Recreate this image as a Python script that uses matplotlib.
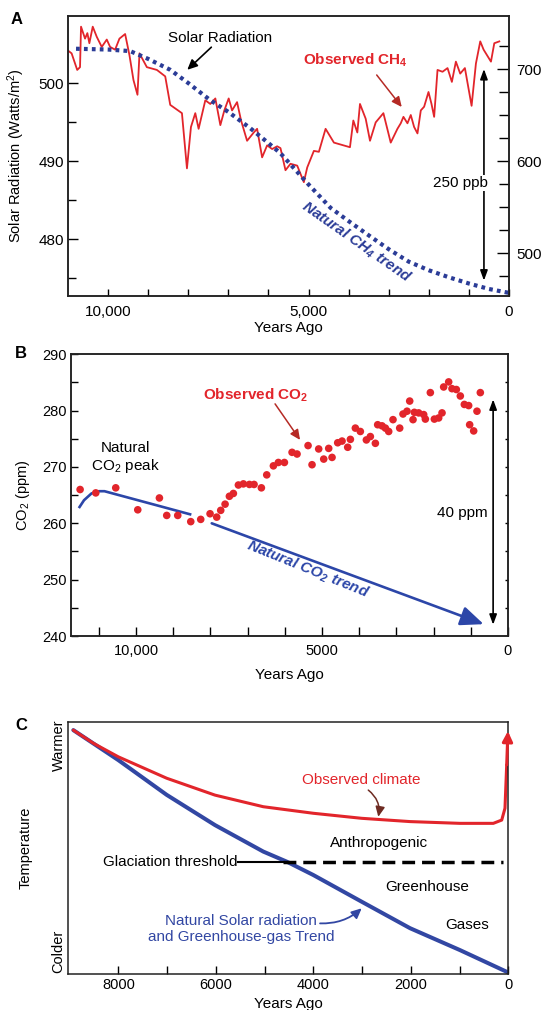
import matplotlib
matplotlib.use("Agg")
import matplotlib.pyplot as plt

plt.rcParams['font.family'] = ['Liberation Sans', 'DejaVu Sans']
plt.rcParams['mathtext.default'] = 'regular'

RED = '#e2252b'
BLUE = '#2b3c97'
BLUE_B = '#2c46a8'
BLUE_C = '#3247a3'

# --- A: summer insolation and methane ---
solar_years = [10800, 10000, 9450, 9000, 8450, 8000, 7450, 7000, 6450, 6000, 5700,
               5000, 4450, 4000, 3450, 3000, 2500, 2000, 1500, 1000, 500, 0]
solar_wm2 = [504.4, 504.3, 504.1, 503.1, 501.7, 500.0, 497.8, 496.3, 494.2, 492.3, 491.0,
             487.0, 484.0, 482.3, 480.3, 478.7, 477.1, 476.0, 475.1, 474.3, 473.6, 473.1]

ch4_years = [11000, 10910, 10770, 10700, 10675, 10575, 10517, 10467, 10383, 10283,
             10158, 10033, 9950, 9825, 9717, 9575, 9467, 9367, 9267, 9217,
             9033, 8783, 8575, 8450, 8158, 8033, 7933, 7825, 7742, 7575,
             7450, 7325, 7200, 7100, 6992, 6908, 6783, 6683, 6533, 6367,
             6283, 6158, 6033, 5908, 5783, 5700, 5575, 5450, 5283, 5117,
             5033, 4867, 4742, 4575, 4367, 3967, 3883, 3783, 3717, 3575,
             3467, 3325, 3133, 2950, 2783, 2700, 2633, 2533, 2450, 2367,
             2283, 2200, 2117, 2008, 1933, 1867, 1783, 1658, 1533, 1425,
             1325, 1217, 1100, 933, 825, 717, 633, 450, 367, 242]
ch4_ppb = [720, 717, 699, 702, 746, 733, 739, 728, 746, 735,
           724, 732, 724, 721, 733, 738, 715, 688, 672, 717,
           702, 699, 692, 661, 652, 592, 637, 652, 635, 666,
           662, 668, 639, 655, 668, 655, 664, 644, 622, 631,
           635, 604, 617, 613, 616, 614, 590, 597, 595, 577,
           593, 611, 610, 635, 620, 615, 644, 631, 662, 646,
           622, 642, 652, 620, 635, 641, 648, 641, 650, 637,
           630, 655, 659, 675, 662, 648, 699, 697, 701, 686,
           708, 695, 701, 660, 706, 730, 721, 708, 728, 730]
ch4_span = [700, 470]

# --- B: carbon dioxide ---
co2_years = [11505, 11084, 10547, 9955, 9373, 9176, 8880, 8530, 8262, 8011,
             7832, 7724, 7607, 7491, 7384, 7249, 7115, 6953, 6828, 6631,
             6487, 6308, 6174, 6012, 5806, 5672, 5376, 5269, 5090, 4955,
             4821, 4731, 4579, 4462, 4310, 4238, 4104, 3970, 3808, 3701,
             3566, 3504, 3387, 3297, 3208, 3092, 2912, 2823, 2715, 2643,
             2554, 2518, 2402, 2267, 2222, 2088, 1980, 1864, 1774, 1730,
             1595, 1506, 1389, 1282, 1174, 1058, 1031, 923, 834, 744]
co2_ppm = [266.0, 265.4, 266.3, 262.4, 264.5, 261.4, 261.4, 260.3, 260.7, 261.7,
           261.1, 262.3, 263.4, 264.8, 265.3, 266.8, 267.0, 266.9, 266.9, 266.3,
           268.6, 270.2, 270.8, 270.8, 272.6, 272.3, 273.8, 270.4, 273.2, 271.4,
           273.3, 271.7, 274.3, 274.6, 273.5, 274.9, 276.9, 276.3, 274.8, 275.4,
           274.2, 277.5, 277.3, 276.9, 276.3, 278.4, 276.9, 279.4, 279.9, 281.7,
           278.4, 279.7, 279.6, 279.3, 278.5, 283.2, 278.5, 278.7, 279.6, 284.2,
           285.1, 283.9, 283.75, 282.6, 281.1, 280.9, 277.5, 276.4, 279.9, 283.2]
peak_years = [11520, 11400, 11200, 11000, 10850, 8548]
peak_ppm = [262.9, 264.1, 265.3, 265.7, 265.7, 261.6]
trend_years = [7966, 654]
trend_ppm = [260.0, 242.1]
co2_span = [282, 242]

# --- C: schematic temperature ---
nat_years = [8923, 8000, 7007, 6016, 5026, 4545, 4000, 3007, 2016, 991, 0]
nat_temp = [0.969, 0.850, 0.712, 0.592, 0.487, 0.447, 0.394, 0.288, 0.183, 0.096, 0.007]
obs_years = [8923, 8513, 8000, 7007, 6016, 5026, 4000, 3007, 2016, 991, 308, 135, 68, 33, 8]
obs_temp = [0.969, 0.917, 0.863, 0.778, 0.711, 0.665, 0.639, 0.619, 0.606, 0.599,
            0.599, 0.612, 0.659, 0.831, 0.965]
threshold = 0.447

W, H = 542, 1010
fig = plt.figure(figsize=(W / 100, H / 100), dpi=100)


def box(left, top, right, bottom):
    return [left / W, 1 - bottom / H, (right - left) / W, (bottom - top) / H]


# ---------------- panel A ----------------
axA = fig.add_axes(box(68, 16, 509, 296))
axA2 = axA.twinx()
axA.set_zorder(axA2.get_zorder() + 1)
axA.patch.set_visible(False)

axA2.plot(ch4_years, ch4_ppb, color=RED, lw=1.3)
axA.plot(solar_years, solar_wm2, color=BLUE, lw=3, linestyle=(0, (0.9, 1.0)))

axA.set_xlim(11000, 0)
axA.set_ylim(472.7, 508.6)
axA2.set_ylim(453.3, 757.6)

axA.set_xticks([10000, 5000, 0], ['10,000', '5,000', '0'])
axA.set_xticks(range(1000, 11000, 1000), minor=True)
axA.set_yticks([480, 490, 500])
axA.set_yticks([475, 485, 495], minor=True)
axA2.set_yticks([500, 600, 700])
axA2.set_yticks([475, 525, 550, 575, 625, 650, 675, 725], minor=True)

axA.tick_params(axis='x', which='both', direction='in', length=5, width=1,
                pad=6.5, labelsize=11)
axA.tick_params(axis='y', which='major', direction='in', length=7, width=1,
                pad=3, labelsize=11)
axA.tick_params(axis='y', which='minor', direction='in', length=6, width=1)
axA2.tick_params(axis='y', which='major', direction='in', length=9, width=1,
                 pad=5, labelsize=11)
axA2.tick_params(axis='y', which='minor', direction='in', length=7, width=1)

axA.set_ylabel('Solar Radiation (Watts/m$^2$)', fontsize=10.5)
axA.yaxis.set_label_coords(-0.093, 0.5)
axA.set_xlabel('Years Ago', fontsize=11, va='top')
axA.xaxis.set_label_coords(0.5, -0.089)

axA.text(7200, 505.8, 'Solar Radiation', ha='center', va='center', fontsize=11)
axA.annotate('', xy=(8025, 501.7), xytext=(7425, 504.6),
             arrowprops=dict(arrowstyle='-|>,head_length=0.6,head_width=0.28',
                             color='black', lw=1.2, shrinkA=0, shrinkB=0))
axA2.text(3825, 709.8, 'Observed CH$_4$', ha='center', va='center', fontsize=11,
          color=RED, fontweight='bold')
axA2.annotate('', xy=(2675, 658.7), xytext=(3300, 693.5),
              arrowprops=dict(arrowstyle='-|>,head_length=0.6,head_width=0.28',
                              color='#b52a25', lw=1.1, shrinkA=0, shrinkB=0))
axA2.annotate('', xy=(625, ch4_span[0]), xytext=(625, ch4_span[1]),
              arrowprops=dict(arrowstyle='<|-|>,head_length=0.6,head_width=0.22',
                              color='black', lw=1.2, shrinkA=0, shrinkB=0))
axA2.text(1200, 576, '250 ppb', ha='center', va='center', fontsize=11, zorder=6,
          bbox=dict(boxstyle='square,pad=0.05', fc='white', ec='none'))
axA.text(3800, 479.6, 'Natural CH$_4$ trend', rotation=-35, rotation_mode='anchor',
         ha='center', va='center', fontsize=11, color=BLUE,
         fontweight='bold', fontstyle='italic')

# ---------------- panel B ----------------
axB = fig.add_axes(box(71, 354.3, 508, 636))
axB.set_xlim(11750, 0)
axB.set_ylim(240, 290)

axB.scatter(co2_years, co2_ppm, s=30, color=RED, edgecolors='none', zorder=3)
axB.plot(peak_years, peak_ppm, color=BLUE_B, lw=1.9)
axB.annotate('', xy=(trend_years[1], trend_ppm[1]), xytext=(trend_years[0], trend_ppm[0]),
             arrowprops=dict(arrowstyle='-|>,head_length=1.0,head_width=0.42',
                             mutation_scale=14, color=BLUE_B, lw=1.9,
                             shrinkA=0, shrinkB=0))
axB.annotate('', xy=(400, co2_span[0]), xytext=(400, co2_span[1]),
             arrowprops=dict(arrowstyle='<|-|>,head_length=0.6,head_width=0.22',
                             color='black', lw=1.2, shrinkA=0, shrinkB=0))
axB.text(1237, 261.9, '40 ppm', ha='center', va='center', fontsize=11, zorder=6,
         bbox=dict(boxstyle='square,pad=0.05', fc='white', ec='none'))

axB.text(10296, 271.6, 'Natural\nCO$_2$ peak', ha='center', va='center',
         fontsize=11, linespacing=1.1)
axB.text(6801, 282.8, 'Observed CO$_2$', ha='center', va='center', fontsize=11,
         color=RED, fontweight='bold')
axB.annotate('', xy=(5591, 274.8), xytext=(6263, 281.2),
             arrowprops=dict(arrowstyle='-|>,head_length=0.6,head_width=0.28',
                             color='#b52a25', lw=1.1, shrinkA=0, shrinkB=0))
axB.text(5376, 251.8, 'Natural CO$_2$ trend', rotation=-22, rotation_mode='anchor',
         ha='center', va='center', fontsize=11, color=BLUE_B,
         fontweight='bold', fontstyle='italic')

axB.set_xticks([10000, 5000, 0], ['10,000', '5000', '0'])
axB.set_xticks(range(1000, 12000, 1000), minor=True)
axB.set_yticks(range(240, 291, 10))
axB.set_yticks(range(245, 290, 10), minor=True)
axB.tick_params(axis='x', which='both', direction='in', length=6.5, width=1,
                pad=5.5, labelsize=10.5)
axB.tick_params(axis='y', which='both', direction='in', length=5, width=1,
                pad=3, labelsize=10.5)
axB_r = axB.twinx()
axB_r.set_ylim(240, 290)
axB_r.set_yticks(range(245, 290, 5))
axB_r.tick_params(axis='y', direction='in', length=2.5, width=1, labelright=False)

axB.set_ylabel('CO$_2$ (ppm)', fontsize=10.5)
axB.yaxis.set_label_coords(-0.089, 0.5)
axB.set_xlabel('Years Ago', fontsize=11, va='top')
axB.xaxis.set_label_coords(0.5, -0.114)

# ---------------- panel C ----------------
axC = fig.add_axes(box(68.3, 722.3, 508.3, 974.3))
axC.set_xlim(9026, 0)
axC.set_ylim(0, 1)

axC.plot(nat_years, nat_temp, color=BLUE_C, lw=2.9, solid_capstyle='round')
axC.plot(obs_years[:-1], obs_temp[:-1], color=RED, lw=2.2, solid_capstyle='round')
axC.annotate('', xy=(obs_years[-1], obs_temp[-1]), xytext=(obs_years[-2], obs_temp[-2]),
             arrowprops=dict(arrowstyle='-|>,head_length=0.6,head_width=0.3',
                             color=RED, lw=2.2, shrinkA=0, shrinkB=0),
             annotation_clip=False)

axC.plot([5538, 4621], [threshold, threshold], color='black', lw=1.5)
axC.plot([4621, 103], [threshold, threshold], color='black', lw=2.5, dashes=(3.7, 2))
axC.text(5560, threshold, 'Glaciation threshold', ha='right', va='center', fontsize=11)

axC.text(3015, 0.771, 'Observed climate', ha='center', va='center', fontsize=11, color=RED)
axC.annotate('', xy=(2667, 0.625), xytext=(2872, 0.731),
             arrowprops=dict(arrowstyle='-|>,head_length=0.6,head_width=0.28',
                             color='#6e2b22', lw=1.1, shrinkA=0, shrinkB=0,
                             connectionstyle='arc3,rad=-0.3'))
axC.text(2642, 0.522, 'Anthropogenic', ha='center', va='center', fontsize=11)
axC.text(1674, 0.348, 'Greenhouse', ha='center', va='center', fontsize=11)
axC.text(837, 0.196, 'Gases', ha='center', va='center', fontsize=11)
axC.text(5484, 0.180, 'Natural Solar radiation\nand Greenhouse-gas Trend',
         ha='center', va='center', fontsize=11, color=BLUE_C, linespacing=1.15)
axC.annotate('', xy=(3007, 0.262), xytext=(3862, 0.202),
             arrowprops=dict(arrowstyle='-|>,head_length=0.6,head_width=0.28',
                             color=BLUE_C, lw=1.3, shrinkA=0, shrinkB=0,
                             connectionstyle='arc3,rad=0.2'))

axC.set_xticks([8000, 6000, 4000, 2000, 0])
axC.set_xticks(range(1000, 9000, 1000), minor=True)
axC.tick_params(axis='x', which='both', direction='in', length=5.5, width=1,
                pad=3, labelsize=10.5)
axC.set_yticks([0.089, 0.91], ['Colder', 'Warmer'])
axC.tick_params(axis='y', length=0, pad=2, labelsize=10.5)
for lab in axC.get_yticklabels():
    lab.set_rotation(90)
    lab.set_va('center')
axC.set_ylabel('Temperature', fontsize=10.5)
axC.yaxis.set_label_coords(-0.080, 0.5)
axC.set_xlabel('Years Ago', fontsize=11, va='top')
axC.xaxis.set_label_coords(0.5, -0.09)

for ax in (axA, axA2, axB, axB_r, axC):
    for sp in ax.spines.values():
        sp.set_linewidth(1.1)
        sp.set_color('#222222')

# panel letters
fig.text(17 / W, 1 - 20 / H, 'A', fontsize=12, fontweight='bold', ha='center', va='center')
fig.text(21 / W, 1 - 354 / H, 'B', fontsize=12, fontweight='bold', ha='center', va='center')
fig.text(21 / W, 1 - 726 / H, 'C', fontsize=12, fontweight='bold', ha='center', va='center')

fig.savefig('out.png', dpi=100)
